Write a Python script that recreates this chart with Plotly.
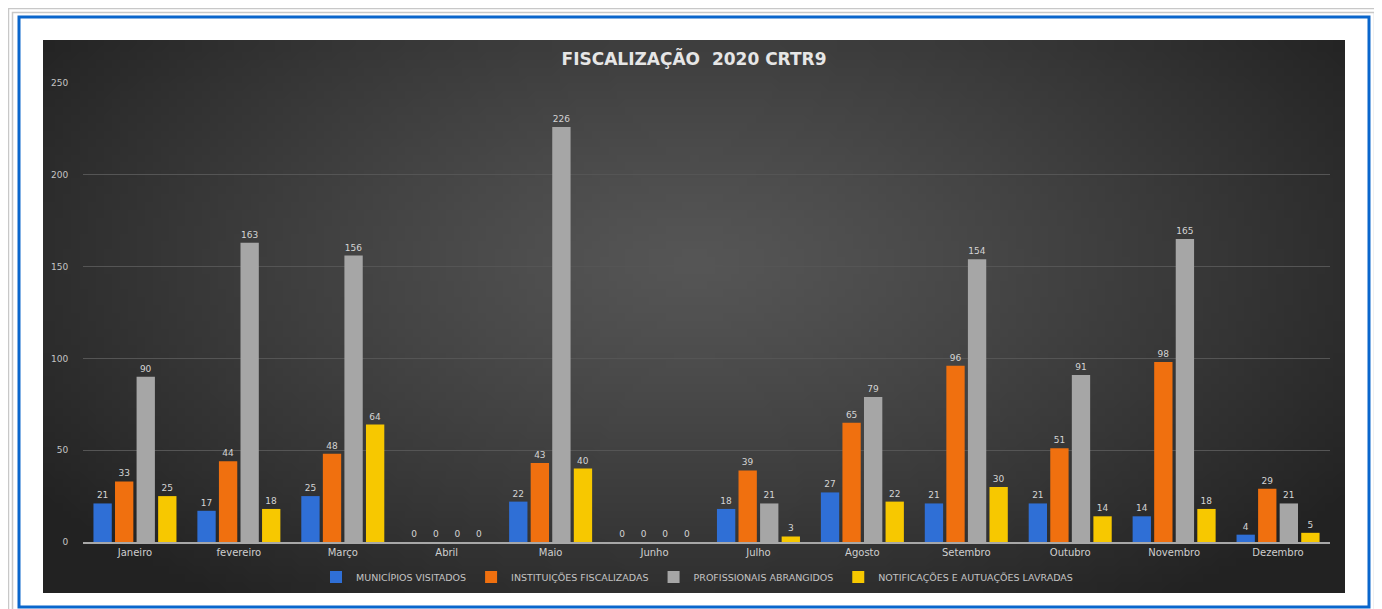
import base64, struct, zlib
import plotly.graph_objects as go

# ---------------- data ----------------
months = ["Janeiro", "fevereiro", "Março", "Abril", "Maio", "Junho", "Julho",
          "Agosto", "Setembro", "Outubro", "Novembro", "Dezembro"]
municipios = [21, 17, 25, 0, 22, 0, 18, 27, 21, 21, 14, 4]
instituicoes = [33, 44, 48, 0, 43, 0, 39, 65, 96, 51, 98, 29]
profissionais = [90, 163, 156, 0, 226, 0, 21, 79, 154, 91, 165, 21]
notificacoes = [25, 18, 64, 0, 40, 0, 3, 22, 30, 14, 18, 5]
series_names = ["MUNICÍPIOS VISITADOS", "INSTITUIÇÕES FISCALIZADAS",
                "PROFISSIONAIS ABRANGIDOS", "NOTIFICAÇÕES E AUTUAÇÕES LAVRADAS"]
y_ticks = [0, 50, 100, 150, 200, 250]

# ---------------- layout geometry (window pixels) ----------------
OFF = 8                      # page body margin
W, H = 1382 - OFF, 609 - OFF
PL, PR = 83, 1330            # plot area left / right (window px)
PT, PB = 83, 542             # plot area top / bottom (y=250 / y=0)


def px(x):
    return (x - PL) / (PR - PL)


def py(y):
    return (PB - y) / (PB - PT)


# ---------------- radial gradient background image ----------------
def gradient_png(w, h):
    rows = []
    inner = (86, 86, 86)
    outer = (34, 34, 34)
    for j in range(h):
        row = bytearray([0])
        for i in range(w):
            dx = (i / (w - 1) - 0.5) / 0.62
            dy = (j / (h - 1) - 0.40) / 0.78
            d = min(1.0, (dx * dx + dy * dy) ** 0.5)
            t = d ** 1.2
            row += bytes(int(inner[k] + (outer[k] - inner[k]) * t) for k in range(3))
        rows.append(bytes(row))
    raw = b"".join(rows)

    def chunk(tag, data):
        c = struct.pack(">I", len(data)) + tag + data
        return c + struct.pack(">I", zlib.crc32(tag + data) & 0xffffffff)

    png = b"\x89PNG\r\n\x1a\n"
    png += chunk(b"IHDR", struct.pack(">IIBBBBB", w, h, 8, 2, 0, 0, 0))
    png += chunk(b"IDAT", zlib.compress(raw, 9))
    png += chunk(b"IEND", b"")
    return "data:image/png;base64," + base64.b64encode(png).decode()


colors = ["#2f6fd6", "#f0700f", "#a6a6a6", "#f7c800"]
series = [municipios, instituicoes, profissionais, notificacoes]

fig = go.Figure()
for name, vals, col in zip(series_names, series, colors):
    fig.add_trace(go.Bar(
        x=months, y=vals, name=name,
        marker=dict(color=col, line=dict(width=0)),
        text=[str(v) for v in vals], textposition="outside",
        textfont=dict(family="DejaVu Sans", size=9, color="#d4d4d4"),
        cliponaxis=False, constraintext="none",
    ))

shapes = []
# grey double frame
shapes.append(dict(type="rect", xref="paper", yref="paper",
                   x0=px(8.5), x1=px(1378.5), y0=py(620), y1=py(8.5),
                   line=dict(color="#c8c8c8", width=1.5), layer="below"))
shapes.append(dict(type="rect", xref="paper", yref="paper",
                   x0=px(12.5), x1=px(1374.5), y0=py(620), y1=py(12.5),
                   line=dict(color="#c8c8c8", width=1.5), layer="below"))
# blue frame
shapes.append(dict(type="rect", xref="paper", yref="paper",
                   x0=px(19), x1=px(1369), y0=py(607), y1=py(17),
                   line=dict(color="#0a66cc", width=3), layer="below"))

fig.update_layout(
    width=W, height=H,
    margin=dict(l=PL - OFF, r=(W + OFF) - PR, t=PT - OFF, b=(H + OFF) - PB, pad=0),
    paper_bgcolor="white", plot_bgcolor="rgba(0,0,0,0)",
    barmode="group", bargap=0.17, bargroupgap=0.15,
    title=dict(text="<b>FISCALIZAÇÃO  2020 CRTR9</b>", x=(694 - OFF) / W, xanchor="center",
               xref="container", y=1 - (59 - OFF) / H, yanchor="middle",
               font=dict(family="DejaVu Sans", size=17, color="#e6e6e6")),
    showlegend=True,
    legend=dict(orientation="h", x=px(697), xanchor="center", y=py(577), yanchor="middle",
                font=dict(family="DejaVu Sans", size=9.5, color="#c4c4c4"),
                bgcolor="rgba(0,0,0,0)", itemwidth=30, traceorder="normal"),
    xaxis=dict(showgrid=False, showline=True, linecolor="#a8a8a8", linewidth=1.5,
               tickfont=dict(family="DejaVu Sans", size=10, color="#cfcfcf"),
               ticks="", fixedrange=True),
    yaxis=dict(range=[0, 250], tickvals=y_ticks, showgrid=True, gridcolor="#555555",
               gridwidth=1, zeroline=False, showline=False,
               ticks="outside", ticklen=12, tickcolor="rgba(0,0,0,0)",
               tickfont=dict(family="DejaVu Sans", size=9, color="#c4c4c4")),
    shapes=shapes,
    images=[dict(source=gradient_png(160, 70), xref="paper", yref="paper",
                 x=px(43), y=py(40), sizex=px(1345) - px(43), sizey=py(40) - py(593),
                 xanchor="left", yanchor="top", sizing="stretch", layer="below")],
)

fig.write_html("out.html")
